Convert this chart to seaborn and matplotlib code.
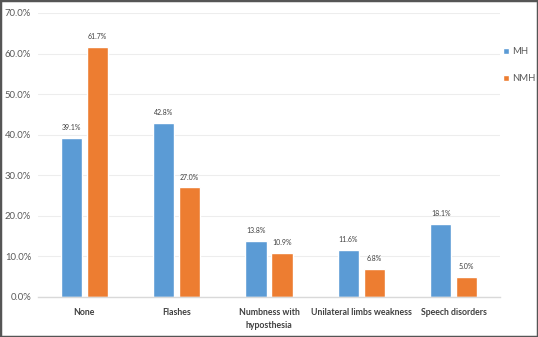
import numpy as np
import pandas as pd
import seaborn as sns
import matplotlib.pyplot as plt
from matplotlib.ticker import PercentFormatter, MultipleLocator

CATEGORIES = ["None", "Flashes", "Numbness with\nhyposthesia",
              "Unilateral limbs weakness", "Speech disorders"]
MH_VALUES  = [39.1, 42.8, 13.8, 11.6, 18.1]
NMH_VALUES = [61.7, 27.0, 10.9, 6.8, 5.0]
GROUPS     = ["MH", "NMH"]
PALETTE    = ["#5B9BD5", "#ED7D31"]

df = pd.DataFrame({
    "category": CATEGORIES * 2,
    "value": MH_VALUES + NMH_VALUES,
    "group": [GROUPS[0]] * len(CATEGORIES) + [GROUPS[1]] * len(CATEGORIES),
})

sns.set_theme(style="white")
plt.rcParams["font.family"] = ["Lato", "DejaVu Sans"]

fig = plt.figure(figsize=(5.38, 3.37), dpi=100)
ax = fig.add_axes([38 / 538, 40 / 337, 462 / 538, 284 / 337])

sns.barplot(data=df, x="category", y="value", hue="group", hue_order=GROUPS,
            palette=PALETTE, width=0.56, gap=0.18, errorbar=None,
            saturation=1, ax=ax, legend=True)

ax.set_ylim(0, 70)
ax.set_xlim(-0.5, len(CATEGORIES) - 0.5)
ax.yaxis.set_major_locator(MultipleLocator(10))
ax.yaxis.set_major_formatter(PercentFormatter(decimals=1))
ax.set_xlabel("")
ax.set_ylabel("")
ax.grid(axis="y", color="#EDEDED", linewidth=0.8)
ax.set_axisbelow(True)
for side in ("top", "right", "left"):
    ax.spines[side].set_visible(False)
ax.spines["bottom"].set_color("#D9D9D9")
ax.spines["bottom"].set_linewidth(1.0)
ax.tick_params(axis="y", labelsize=6.8, colors="#595959", length=0, pad=5)
ax.tick_params(axis="x", labelsize=6.3, colors="#404040", length=0, pad=8)
for lbl in ax.get_xticklabels():
    lbl.set_fontweight("bold")
    lbl.set_linespacing(1.5)

# value labels
for container in ax.containers:
    ax.bar_label(container, labels=[f"{v:.1f}%" for v in container.datavalues],
                 fontsize=5, color="#404040", padding=5)

leg = ax.legend(loc="upper left", bbox_to_anchor=(0.995, 0.9), frameon=False,
                fontsize=6.8, handlelength=0.55, handleheight=0.55,
                handletextpad=0.35, labelspacing=1.9, borderaxespad=0.2)
for t in leg.get_texts():
    t.set_color("#595959")

# outer border
fig.patches.append(plt.Rectangle((0, 0), 1, 1, transform=fig.transFigure,
                                 fill=False, edgecolor="#555555", linewidth=2.5))

fig.savefig("out.png", dpi=100)
